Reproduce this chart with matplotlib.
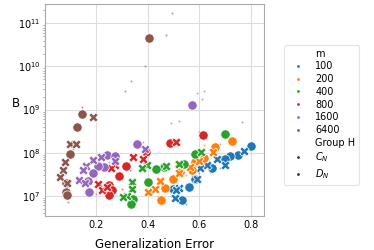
import numpy as np
import matplotlib
matplotlib.use("Agg")
import matplotlib.pyplot as plt
from matplotlib.lines import Line2D

m_vals = ["100", "200", "400", "800", "1600", "6400"]
colors = ["#1f77b4", "#ff7f0e", "#2ca02c", "#d62728", "#9467bd", "#8c564b"]

# C_N (circles): generalization error / B
cn_x = {
    "100": [0.80, 0.752, 0.72, 0.70, 0.649, 0.584, 0.562, 0.50, 0.532],
    "200": [0.729, 0.662, 0.62, 0.584, 0.571, 0.526, 0.50, 0.467, 0.452],
    "400": [0.70, 0.585, 0.542, 0.465, 0.432, 0.402, 0.344, 0.335],
    "800": [0.614, 0.487, 0.392, 0.316, 0.29, 0.25, 0.262, 0.25],
    "1600": [0.572, 0.36, 0.243, 0.273, 0.23, 0.207, 0.188, 0.169, 0.173],
    "6400": [0.406, 0.146, 0.126, 0.098, 0.082, 0.082, 0.087],
}
cn_y = {
    "100": [1.45e8, 8.7e7, 8.3e7, 7.1e7, 4.4e7, 2.5e7, 1.6e7, 1.4e7, 7.9e6],
    "200": [1.85e8, 1.38e8, 7.6e7, 6.2e7, 4.0e7, 3.6e7, 2.5e7, 1.48e7, 8.0e6],
    "400": [2.65e8, 9.5e7, 5.6e7, 4.7e7, 4.2e7, 2.1e7, 8.5e6, 6.5e6],
    "800": [2.6e8, 1.65e8, 1.05e8, 4.8e7, 2.8e7, 1.75e7, 1.38e7, 1.02e7],
    "1600": [1.28e9, 1.55e8, 8.6e7, 8.4e7, 4.6e7, 5.0e7, 3.4e7, 2.2e7, 1.25e7],
    "6400": [4.6e10, 7.8e8, 4.0e8, 9.5e7, 1.95e7, 1.25e7, 1.05e7],
}
# D_N (crosses)
dn_x = {
    "100": [0.776, 0.70, 0.668, 0.63, 0.604, 0.59, 0.523, 0.504, 0.51],
    "200": [0.653, 0.60, 0.565, 0.519, 0.52, 0.448, 0.43, 0.402],
    "400": [0.606, 0.523, 0.471, 0.396, 0.377, 0.338, 0.338, 0.32, 0.305],
    "800": [0.509, 0.344, 0.383, 0.273, 0.257, 0.208, 0.221, 0.24],
    "1600": [0.388, 0.217, 0.186, 0.159, 0.148, 0.273, 0.134, 0.156],
    "6400": [0.186, 0.098, 0.121, 0.078, 0.069, 0.059, 0.087],
}
dn_y = {
    "100": [1.1e8, 5.1e7, 7.1e7, 5.2e7, 4.4e7, 2.45e7, 1.48e7, 8.7e6, 1.35e7],
    "200": [1.02e8, 6.5e7, 4.6e7, 5.6e7, 3.3e7, 2.2e7, 1.45e7, 1.23e7],
    "400": [1.05e8, 5.6e7, 4.9e7, 5.1e7, 4.4e7, 2.1e7, 1.4e7, 1.0e7, 9.5e6],
    "800": [1.75e8, 7.9e7, 7.2e7, 5.3e7, 4.3e7, 1.85e7, 1.35e7, 1.6e7],
    "1600": [1.2e8, 7.8e7, 6.8e7, 4.9e7, 4.0e7, 6.3e7, 2.3e7, 1.95e7],
    "6400": [6.6e8, 1.6e8, 1.6e8, 6.2e7, 4.0e7, 2.7e7, 2.0e7],
}
# individual runs (small dots)
run_x = {
    "100": [0.76, 0.68, 0.55, 0.60, 0.49, 0.71, 0.79, 0.64, 0.52],
    "200": [0.62, 0.73, 0.55, 0.44, 0.46, 0.52, 0.39, 0.67, 0.58],
    "400": [0.765, 0.68, 0.65, 0.60, 0.45, 0.36, 0.33, 0.42, 0.55],
    "800": [0.60, 0.50, 0.40, 0.30, 0.27, 0.20, 0.33, 0.26],
    "1600": [0.59, 0.62, 0.61, 0.49, 0.52, 0.58, 0.38, 0.15, 0.25, 0.20, 0.17],
    "6400": [0.496, 0.47, 0.39, 0.335, 0.31, 0.146, 0.09, 0.13, 0.18, 0.19, 0.11],
}
run_y = {
    "100": [1.0e8, 4.5e7, 6.5e6, 3.3e7, 1.0e7, 7.5e7, 1.6e8, 3.5e7, 1.2e7],
    "200": [1.5e8, 2.2e8, 3.0e7, 1.0e7, 7.0e6, 4.5e7, 1.4e7, 1.1e8, 5.0e7],
    "400": [5.2e8, 1.6e8, 1.3e8, 1.1e8, 5.5e7, 8.0e6, 1.1e7, 3.5e7, 6.0e7],
    "800": [3.0e8, 2.0e8, 1.1e8, 1.4e7, 1.2e7, 2.2e7, 4.0e7, 5.5e7],
    "1600": [2.4e9, 2.7e9, 1.8e9, 4.8e8, 5.3e8, 1.1e9, 1.8e8, 3.5e7, 6.0e7, 1.1e7, 1.5e7],
    "6400": [1.7e11, 5.5e10, 1.0e10, 4.5e9, 2.7e9, 1.15e9, 7.0e6, 1.7e8, 7.2e8, 6.0e8, 1.2e8],
}

fig = plt.figure(figsize=(3.74, 2.5), dpi=100)
ax = fig.add_axes([0.12, 0.136, 0.586, 0.848])
ax.set_yscale("log")

for m, c in zip(m_vals, colors):
    ax.scatter(run_x[m], run_y[m], s=2, color=c, alpha=0.6, linewidths=0, zorder=2)
    ax.scatter(cn_x[m], cn_y[m], s=45, marker="o", color=c, edgecolors="white",
               linewidths=0.5, zorder=3)
    ax.scatter(dn_x[m], dn_y[m], s=45, marker="X", color=c, edgecolors="white",
               linewidths=0.5, zorder=3)

ax.set_xlim(0.0, 0.852)
ax.set_ylim(10**6.53, 10**11.45)
ax.set_xticks([0.2, 0.4, 0.6, 0.8])
ax.set_xticklabels(["0.2", "0.4", "0.6", "0.8"])
ax.grid(True, which="major", color="#dddddd", linewidth=0.8, zorder=0)
ax.set_axisbelow(True)
for sp in ax.spines.values():
    sp.set_color("#aaaaaa")
    sp.set_linewidth(0.8)
ax.tick_params(axis="both", which="major", labelsize=7, length=0, pad=3)
ax.tick_params(axis="y", which="minor", length=1.5, width=0.5, color="#888888")
ax.tick_params(axis="x", which="minor", length=0)

ax.set_xlabel("Generalization Error", fontsize=8.5, labelpad=6)
ax.set_ylabel("B", fontsize=8.5, rotation=0, va="center", ha="center")
ax.yaxis.set_label_coords(-0.132, 0.53)

handles = [Line2D([], [], linestyle="none")]
labels = ["m"]
for m, c in zip(m_vals, colors):
    handles.append(Line2D([], [], linestyle="none", marker="o", markersize=2,
                          color=c, markeredgewidth=0))
    labels.append(m)
handles.append(Line2D([], [], linestyle="none"))
labels.append("Group H")
for g in ["$C_N$", "$D_N$"]:
    handles.append(Line2D([], [], linestyle="none", marker="o", markersize=2,
                          color="#333333", markeredgewidth=0))
    labels.append(g)

leg = fig.legend(handles, labels, loc="upper left", bbox_to_anchor=(0.760, 0.821),
                 fontsize=7, frameon=True, handlelength=2.0, handletextpad=0.8,
                 borderpad=0.4, labelspacing=0.28, borderaxespad=0)
leg.get_frame().set_edgecolor("#dddddd")
leg.get_frame().set_linewidth(0.8)

fig.savefig("out.png", dpi=100)
